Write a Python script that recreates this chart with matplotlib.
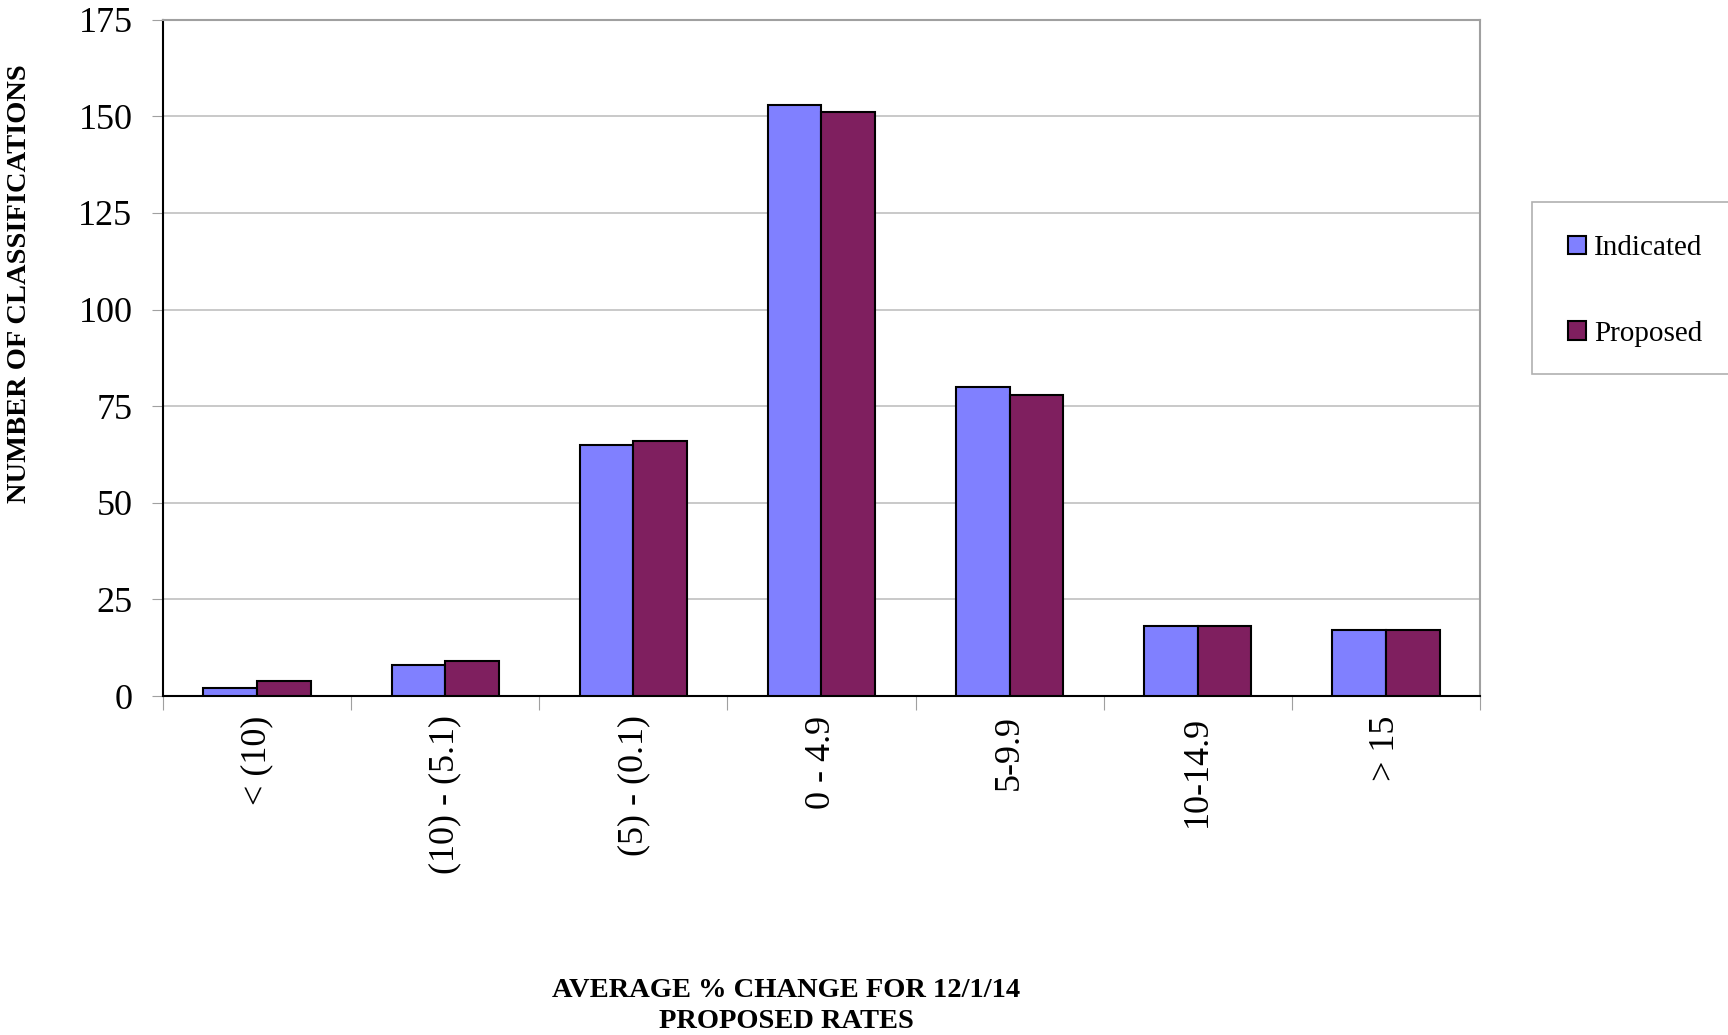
import matplotlib.pyplot as plt
from matplotlib.patches import Rectangle
import numpy as np

categories = ["< (10)", "(10) - (5.1)", "(5) - (0.1)", "0 - 4.9", "5-9.9", "10-14.9", "> 15"]
indicated = [2, 8, 65, 153, 80, 18, 17]
proposed = [4, 9, 66, 151, 78, 18, 17]

plt.rcParams['font.family'] = ['Liberation Serif', 'DejaVu Serif']

fig = plt.figure(figsize=(17.28, 10.35), dpi=100)
ax = fig.add_axes([0.0943, 0.3275, 0.7622, 0.6535])

x = np.arange(len(categories))
w = 0.285
ax.bar(x - w / 2, indicated, w, color="#8080ff", edgecolor="black", linewidth=1.5,
       label="Indicated", zorder=3)
ax.bar(x + w / 2, proposed, w, color="#7f1f5f", edgecolor="black", linewidth=1.5,
       label="Proposed", zorder=3)

ax.set_xlim(-0.5, len(categories) - 0.5)
ax.set_ylim(0, 175)
ax.set_yticks(np.arange(0, 176, 25))
ax.tick_params(axis="y", labelsize=26, length=8, color="#a0a0a0", direction="out", pad=14)
ax.yaxis.grid(True, color="#c0c0c0", linewidth=1.2, zorder=0)

# category boundaries get the ticks, labels sit in between
ax.set_xticks(np.arange(-0.5, len(categories), 1.0))
ax.set_xticklabels([])
ax.tick_params(axis="x", which="major", length=10, color="#a0a0a0", direction="out")
ax.set_xticks(x, minor=True)
ax.set_xticklabels(categories, minor=True, rotation=90, fontsize=26, va="top", ha="center")
ax.tick_params(axis="x", which="minor", length=0, pad=14)

ax.spines["left"].set_color("black")
ax.spines["bottom"].set_color("black")
ax.spines["top"].set_color("#a0a0a0")
ax.spines["right"].set_color("#a0a0a0")
for s in ax.spines.values():
    s.set_linewidth(1.5)

fig.text(0.011, 0.726, "NUMBER OF CLASSIFICATIONS", rotation=90, ha="center", va="center",
         fontsize=20.5, fontweight="bold")
fig.text(0.455, 0.028, "AVERAGE % CHANGE FOR 12/1/14\nPROPOSED RATES", ha="center", va="center",
         fontsize=20.5, fontweight="bold", linespacing=1.35)

# legend box runs off the right edge like the original
fig.patches.append(Rectangle((1532 / 1728, 1 - 374 / 1035), 0.2, 172 / 1035,
                             transform=fig.transFigure, facecolor="white",
                             edgecolor="#b0b0b0", linewidth=1.2))
leg = fig.legend(loc="center left", bbox_to_anchor=(1568 / 1728, 1 - 291 / 1035),
                 frameon=False, fontsize=21, handlelength=0.6, handleheight=0.6,
                 handletextpad=0.3, labelspacing=2.05, borderpad=0, borderaxespad=0)

fig.savefig("out.png", dpi=100)
